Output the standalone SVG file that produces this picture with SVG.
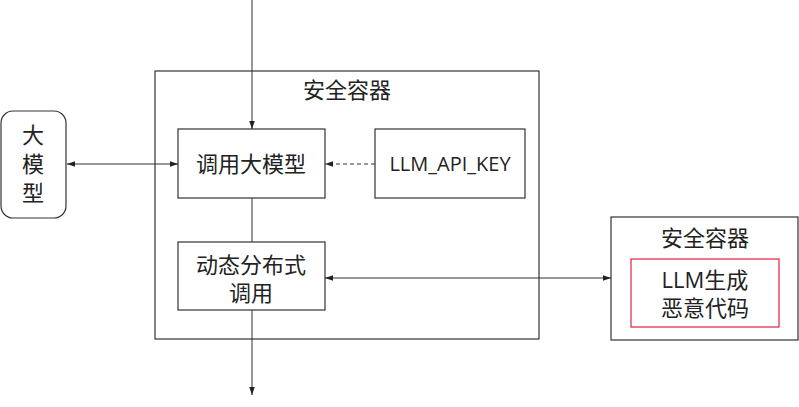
<svg xmlns="http://www.w3.org/2000/svg" width="799" height="407" viewBox="0 0 799 407">
<style>
text{font-family:"Open Sans","Noto Sans CJK SC",sans-serif;font-size:22px;fill:#222;text-anchor:middle}
.b{fill:#fff;stroke:#333;stroke-width:1.2}
.c{fill:none;stroke:#333;stroke-width:1}
</style>
<defs>
<marker id="a" viewBox="0 0 10 10" refX="10" refY="5" markerWidth="8" markerHeight="8" orient="auto-start-reverse"><path d="M0,1.5 L10,5 L0,8.5z" fill="#222"/></marker>
</defs>
<rect width="799" height="407" fill="#fff"/>
<g id="container1"><rect class="b" x="155" y="71" width="384" height="268"/><text x="347" y="98">安全容器</text></g>
<g id="container2"><rect class="b" x="611" y="217" width="187" height="123"/><text x="705" y="246">安全容器</text></g>
<g id="llm"><rect class="b" x="1" y="111" width="65" height="107" rx="12"/><text x="33" y="143">大</text><text x="33" y="172">模</text><text x="33" y="201">型</text></g>
<g id="call"><rect class="b" x="178" y="129" width="147" height="69"/><text x="251" y="172">调用大模型</text></g>
<g id="key"><rect class="b" x="375" y="129" width="150" height="69"/><text x="450" y="171" style="font-size:20px">LLM_API_KEY</text></g>
<g id="dyn"><rect class="b" x="178" y="242" width="147" height="68"/><text x="251" y="273">动态分布式</text><text x="251" y="301">调用</text></g>
<g id="mal"><rect x="631" y="259" width="148" height="68" fill="#fff" stroke="#e0203f" stroke-width="1.2"/><text x="705" y="288">LLM生成</text><text x="705" y="316">恶意代码</text></g>
<g id="connectors">
<path class="c" d="M252,0 V129" marker-end="url(#a)"/>
<path class="c" d="M252,198 V242"/>
<path class="c" d="M252,310 V395" marker-end="url(#a)"/>
<path class="c" d="M67,164 H178" marker-start="url(#a)" marker-end="url(#a)"/>
<path class="c" d="M375,164 H325" stroke-dasharray="4,3" marker-end="url(#a)"/>
<path class="c" d="M325,278 H611" marker-start="url(#a)" marker-end="url(#a)"/>
</g>
</svg>
